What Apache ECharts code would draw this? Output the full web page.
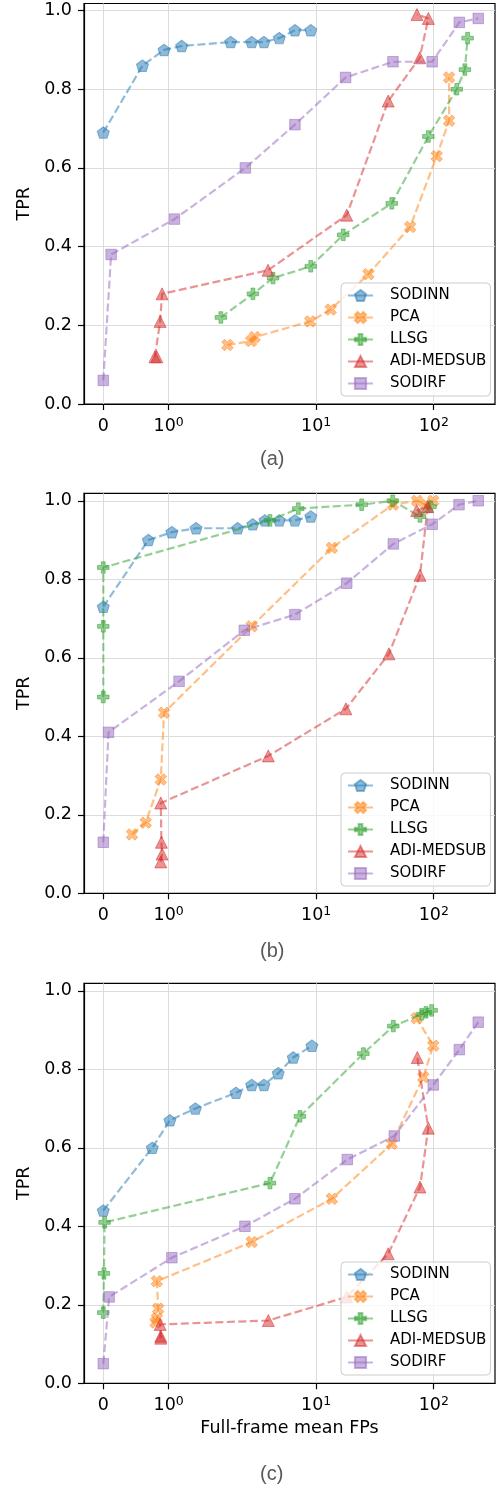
<!DOCTYPE html>
<html><head><meta charset="utf-8">
<script src="https://cdn.jsdelivr.net/npm/echarts@6/dist/echarts.min.js"></script>
<style>html,body{margin:0;padding:0;background:#fff}#c{width:497px;height:1490px}</style>
</head><body><div id="c"></div>
<script>
// ---------- data ----------
const seriesNames = ['SODINN', 'PCA', 'LLSG', 'ADI-MEDSUB', 'SODIRF'];
const panelLabels = ['(a)', '(b)', '(c)'];
const xTickValues = [0, 1, 10, 100];
const xTickSup = ['', '0', '1', '2'];
const yTickValues = [0, 0.2, 0.4, 0.6, 0.8, 1.0];
const xAxisName = 'Full-frame mean FPs';
const yAxisName = 'TPR';

// panel (a)
const sodinnA_x = [0, 0.6, 0.93, 1.2, 1.95, 2.83, 3.6, 4.86, 6.6, 9.0];
const sodinnA_y = [0.69, 0.86, 0.90, 0.91, 0.92, 0.92, 0.92, 0.93, 0.95, 0.95];
const pcaA_x = [1.9, 2.8, 3.0, 8.9, 13.3, 27.8, 63, 106, 135, 135];
const pcaA_y = [0.15, 0.16, 0.17, 0.21, 0.24, 0.33, 0.45, 0.63, 0.72, 0.83];
const llsgA_x = [1.8, 2.9, 4.3, 9.0, 17, 44, 90, 157, 184, 194];
const llsgA_y = [0.22, 0.28, 0.32, 0.35, 0.43, 0.51, 0.68, 0.80, 0.85, 0.93];
const adiA_x = [0.79, 0.82, 0.87, 0.90, 3.9, 18.2, 41, 76, 90, 72];
const adiA_y = [0.12, 0.12, 0.21, 0.28, 0.34, 0.48, 0.77, 0.88, 0.98, 0.99];
const sodirfA_x = [0, 0.12, 1.09, 2.5, 6.6, 17.8, 45, 97, 165, 239];
const sodirfA_y = [0.06, 0.38, 0.47, 0.60, 0.71, 0.83, 0.87, 0.87, 0.97, 0.98];

// panel (b)
const sodinnB_x = [0, 0.69, 1.05, 1.42, 2.15, 2.89, 3.67, 4.86, 6.6, 9.0];
const sodinnB_y = [0.73, 0.90, 0.92, 0.93, 0.93, 0.94, 0.95, 0.95, 0.95, 0.96];
const pcaB_x = [0.44, 0.65, 0.88, 0.93, 2.83, 13.6, 45, 72, 86, 99];
const pcaB_y = [0.15, 0.18, 0.29, 0.46, 0.68, 0.88, 0.99, 1.0, 0.99, 1.0];
const llsgB_x = [0, 0, 0, 4.05, 7.05, 24.4, 44.8, 76.4, 94];
const llsgB_y = [0.50, 0.68, 0.83, 0.95, 0.98, 0.99, 1.0, 0.96, 0.985];
const adiB_x = [0.88, 0.90, 0.89, 0.88, 3.92, 17.9, 41.6, 76.4, 88.8, 71.6];
const adiB_y = [0.08, 0.10, 0.13, 0.23, 0.35, 0.47, 0.61, 0.81, 0.985, 0.975];
const sodirfB_x = [0, 0.08, 1.16, 2.45, 6.6, 18.2, 45.3, 97, 164, 239];
const sodirfB_y = [0.13, 0.41, 0.54, 0.67, 0.71, 0.79, 0.89, 0.94, 0.99, 1.0];

// panel (c)
const sodinnC_x = [0, 0.75, 1.02, 1.41, 2.08, 2.83, 3.6, 4.76, 6.39, 9.2];
const sodinnC_y = [0.44, 0.60, 0.67, 0.70, 0.74, 0.76, 0.76, 0.79, 0.83, 0.86];
const pcaC_x = [0.80, 0.82, 0.84, 0.82, 2.83, 13.6, 43.9, 81.5, 99, 71.6];
const pcaC_y = [0.155, 0.165, 0.19, 0.26, 0.36, 0.47, 0.61, 0.78, 0.86, 0.93];
const llsgC_x = [0, 0.01, 0.02, 4.05, 7.28, 25.2, 45.3, 79, 86, 96];
const llsgC_y = [0.18, 0.28, 0.41, 0.51, 0.68, 0.84, 0.91, 0.94, 0.945, 0.95];
const adiC_x = [0.88, 0.88, 0.87, 3.92, 18.2, 41, 76.4, 89.9, 72.5];
const adiC_y = [0.115, 0.12, 0.15, 0.16, 0.22, 0.33, 0.50, 0.65, 0.83];
const sodirfC_x = [0, 0.09, 1.05, 2.48, 6.6, 18.4, 46.2, 99, 165, 239];
const sodirfC_y = [0.05, 0.22, 0.32, 0.40, 0.47, 0.57, 0.63, 0.76, 0.85, 0.92];

// ---------- layout / style ----------
const FONT = 'DejaVu Sans';
const colors = ['#1f77b4', '#ff7f0e', '#2ca02c', '#d62728', '#9467bd'];
const symbols = [
  'path://M0,-1 L0.951,-0.309 L0.588,0.809 L-0.588,0.809 L-0.951,-0.309 Z',
  'path://M1,-2 L2,-1 L1,0 L2,1 L1,2 L0,1 L-1,2 L-2,1 L-1,0 L-2,-1 L-1,-2 L0,-1 Z',
  'path://M1,0 L2,0 L2,1 L3,1 L3,2 L2,2 L2,3 L1,3 L1,2 L0,2 L0,1 L1,1 Z',
  'triangle',
  'rect'
];
const symbolSizes = [[12, 11.5], 11.5, 11.5, 12, 10.5];
const gridTops = [3.5, 493.3, 983.3];
const gridHeights = [400.5, 400, 400];
const yMaxes = [1.018, 1.019, 1.019];
const legendTops = [283, 773, 1262];
const titleTops = [449, 941, 1464];

// symlog transform (linthresh 2, linscale 1, base 10)
const LINTHRESH = 2, LINSCALE_ADJ = 1 / (1 - 1 / 10);
function symlog(x) {
  return x <= LINTHRESH ? x * LINSCALE_ADJ : LINTHRESH * (LINSCALE_ADJ + Math.log10(x / LINTHRESH));
}
const xTickT = xTickValues.map(symlog);

const panels = [
  [[sodinnA_x, sodinnA_y], [pcaA_x, pcaA_y], [llsgA_x, llsgA_y], [adiA_x, adiA_y], [sodirfA_x, sodirfA_y]],
  [[sodinnB_x, sodinnB_y], [pcaB_x, pcaB_y], [llsgB_x, llsgB_y], [adiB_x, adiB_y], [sodirfB_x, sodirfB_y]],
  [[sodinnC_x, sodinnC_y], [pcaC_x, pcaC_y], [llsgC_x, llsgC_y], [adiC_x, adiC_y], [sodirfC_x, sodirfC_y]]
];

const grids = [], xAxes = [], yAxes = [], series = [], legends = [], titles = [];
panels.forEach((panel, p) => {
  grids.push({ left: 84, width: 411, top: gridTops[p], height: gridHeights[p], show: true,
    borderColor: '#000', borderWidth: 1.2, backgroundColor: 'transparent', containLabel: false });
  xAxes.push({
    type: 'value', gridIndex: p, min: -0.328, max: 6.662,
    axisLine: { show: true, onZero: false, lineStyle: { color: '#000', width: 1.2 } },
    axisTick: { show: true, length: 6, inside: false, customValues: xTickT, lineStyle: { color: '#000', width: 1.2 } },
    axisLabel: {
      customValues: xTickT, margin: 12, color: '#000',
      formatter: function (v) {
        let k = 0, best = 1e9;
        xTickT.forEach((t, i) => { if (Math.abs(t - v) < best) { best = Math.abs(t - v); k = i; } });
        return xTickSup[k] === '' ? '{b|0}' : '{b|10}{s|' + xTickSup[k] + '}';
      },
      rich: {
        b: { fontFamily: FONT, fontSize: 17.5, lineHeight: 20, color: '#000' },
        s: { fontFamily: FONT, fontSize: 12.5, lineHeight: 8, verticalAlign: 'top', color: '#000' }
      }
    },
    splitLine: { show: true, lineStyle: { color: '#dcdcdc', width: 1 } },
    name: p === 2 ? xAxisName : '', nameLocation: 'middle', nameGap: 36,
    nameTextStyle: { fontFamily: FONT, fontSize: 17.5, color: '#000' }
  });
  yAxes.push({
    type: 'value', gridIndex: p, min: 0, max: yMaxes[p],
    axisLine: { show: true, onZero: false, lineStyle: { color: '#000', width: 1.2 } },
    axisTick: { show: true, length: 6, inside: false, customValues: yTickValues, lineStyle: { color: '#000', width: 1.2 } },
    axisLabel: { customValues: yTickValues, margin: 12, color: '#000', fontFamily: FONT, fontSize: 17.5,
      formatter: v => v.toFixed(1) },
    splitLine: { show: true, lineStyle: { color: '#dcdcdc', width: 1 } },
    name: yAxisName, nameLocation: 'middle', nameGap: 50, nameRotate: 90,
    nameTextStyle: { fontFamily: FONT, fontSize: 17.5, color: '#000' }
  });
  panel.forEach((xy, s) => {
    series.push({
      type: 'line', name: seriesNames[s], xAxisIndex: p, yAxisIndex: p,
      data: xy[0].map((x, i) => [symlog(x), xy[1][i]]),
      symbol: symbols[s], symbolSize: symbolSizes[s], showSymbol: true,
      lineStyle: { color: colors[s], width: 2.2, type: [8, 3.5], opacity: 0.5 },
      itemStyle: { color: colors[s], borderColor: colors[s], borderWidth: 1, opacity: 0.5 },
      emphasis: { disabled: true }, animation: false, clip: false, z: 2 + s
    });
  });
  legends.push({
    left: 341, top: legendTops[p], orient: 'vertical', itemWidth: 25, itemHeight: 14, itemGap: 7,
    padding: [5, 4, 5, 6], backgroundColor: 'rgba(255,255,255,0.8)', borderColor: '#cccccc',
    borderWidth: 1, borderRadius: 4, data: seriesNames, z: 20,
    lineStyle: { type: 'solid' },
    textStyle: { fontFamily: FONT, fontSize: 15, color: '#000', padding: [0, 0, 0, 12] }
  });
  titles.push({ text: panelLabels[p], left: 260, top: titleTops[p], padding: 0,
    textStyle: { fontFamily: 'Liberation Sans', fontSize: 20, fontWeight: 'normal', color: '#595959' } });
});

const chart = echarts.init(document.getElementById('c'), null, { renderer: 'canvas' });
chart.setOption({
  animation: false, backgroundColor: '#fff',
  title: titles, grid: grids, xAxis: xAxes, yAxis: yAxes, legend: legends, series: series
});
</script></body></html>
